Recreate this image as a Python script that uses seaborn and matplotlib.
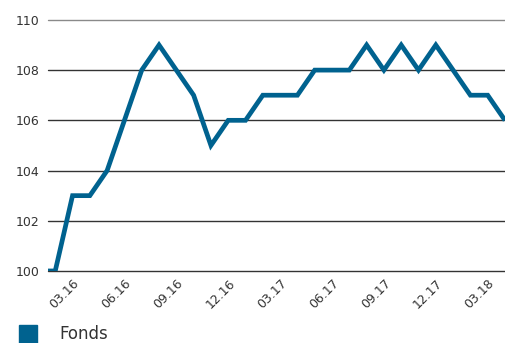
import matplotlib
matplotlib.use("Agg")
import matplotlib.pyplot as plt
import seaborn as sns
import numpy as np
import pandas as pd
from matplotlib.lines import Line2D

# Daten (monatlich, 01.16 - 04.18)
months = ['01.16', '02.16', '03.16', '04.16', '05.16', '06.16', '07.16', '08.16', '09.16',
          '10.16', '11.16', '12.16', '01.17', '02.17', '03.17', '04.17', '05.17', '06.17',
          '07.17', '08.17', '09.17', '10.17', '11.17', '12.17', '01.18', '02.18', '03.18',
          '04.18']
fonds = [100, 100, 103, 103, 104, 106, 108, 109, 108, 107, 105, 106, 106, 107, 107, 107,
         108, 108, 108, 109, 108, 109, 108, 109, 108, 107, 107, 106]
tick_labels = ['03.16', '06.16', '09.16', '12.16', '03.17', '06.17', '09.17', '12.17', '03.18']
y_ticks = [100, 102, 104, 106, 108, 110]

color = '#00628f'

df = pd.DataFrame({'idx': np.arange(len(months)), 'monat': months, 'wert': fonds})

sns.set_style("white")
plt.rcParams['font.family'] = ['DejaVu Sans']

fig = plt.figure(figsize=(5.05, 3.43), dpi=100)
ax = fig.add_axes([0.095, 0.21, 0.905, 0.732])

sns.lineplot(data=df, x='idx', y='wert', ax=ax, color=color, linewidth=3.4, zorder=3)
for ln in ax.lines:
    ln.set_solid_joinstyle('miter')
    ln.set_solid_capstyle('butt')

ax.set_xlim(0.58, len(months) - 1)
ax.set_ylim(100, 110)
ax.set_yticks(y_ticks)
ax.set_yticklabels([str(v) for v in y_ticks])

tick_pos = [months.index(t) for t in tick_labels]
ax.set_xticks(tick_pos)
ax.set_xticklabels(tick_labels, rotation=45, ha='right', rotation_mode='anchor')

# Gitterlinien (oberste etwas heller)
for v in y_ticks:
    c = '#8a8a8a' if v == 110 else '#333333'
    ax.axhline(v, color=c, linewidth=1.0, zorder=1, clip_on=False)
for s in ax.spines.values():
    s.set_visible(False)
ax.tick_params(axis='both', length=0, labelsize=9, colors='#333333')
ax.tick_params(axis='y', pad=6)
ax.tick_params(axis='x', pad=4)
ax.set_xlabel('')
ax.set_ylabel('')

handle = Line2D([], [], marker='s', linestyle='none', markersize=13,
                markerfacecolor=color, markeredgecolor=color)
fig.legend([handle], ['Fonds'], loc='lower left', bbox_to_anchor=(-0.008, -0.045),
           frameon=False, fontsize=12, handletextpad=0.9, labelcolor='#333333')

fig.savefig('out.png', dpi=100)
